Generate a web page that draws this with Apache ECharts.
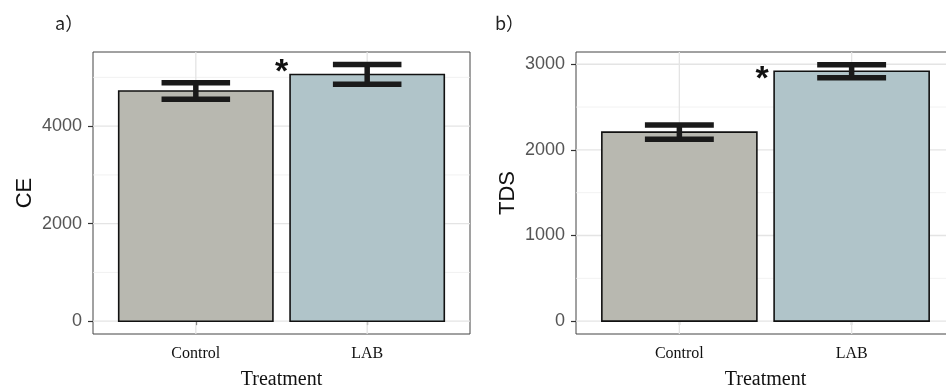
<!DOCTYPE html>
<html><head><meta charset="utf-8">
<script src="https://cdn.jsdelivr.net/npm/echarts@6/dist/echarts.min.js"></script>
<style>html,body{margin:0;padding:0;background:#fff}#c{width:946px;height:391px}</style>
</head><body><div id="c"></div>
<script>
// ---- data ----
const categories = ['Control', 'LAB'];
const catPos = [1, 2];
const ceMean = [4722, 5061];
const ceSE = [170, 204];
const tdsMean = [2207, 2918];
const tdsSE = [84, 76];
const ceTicks = [0, 2000, 4000];
const ceMinor = [1000, 3000, 5000];
const tdsTicks = [0, 1000, 2000, 3000];
const tdsMinor = [500, 1500, 2500];
const ceRange = [-263, 5521];
const tdsRange = [-150, 3143];
const xRange = [0.4, 2.6];
const ceSig = [1.5, 5090];
const tdsSig = [1.48, 2815];
const panelLabels = ['a）', 'b）'];
const yTitles = ['CE', 'TDS'];
const xTitle = 'Treatment';

// ---- styles ----
const fills = ['#B8B8B0', '#B0C4C9'];
const sans = 'Liberation Sans';
const serif = 'Liberation Serif';

function barItem(params, api) {
  const x = api.value(0), y = api.value(1);
  const a = api.coord([x - 0.45, 0]);
  const b = api.coord([x + 0.45, y]);
  return { type: 'rect', shape: { x: a[0], y: b[1], width: b[0] - a[0], height: a[1] - b[1] },
    style: { fill: fills[params.dataIndex], stroke: '#111', lineWidth: 1.6 } };
}
function errItem(params, api) {
  const x = api.value(0), m = api.value(1), s = api.value(2);
  const hi = api.coord([x, m + s]), lo = api.coord([x, m - s]);
  const l = api.coord([x - 0.2, m])[0], r = api.coord([x + 0.2, m])[0];
  const st = { stroke: '#1A1A1A', lineWidth: 5.5 };
  return { type: 'group', children: [
    { type: 'line', shape: { x1: hi[0], y1: hi[1], x2: lo[0], y2: lo[1] }, style: st },
    { type: 'line', shape: { x1: l, y1: hi[1], x2: r, y2: hi[1] }, style: st },
    { type: 'line', shape: { x1: l, y1: lo[1], x2: r, y2: lo[1] }, style: st }
  ] };
}
function hLine(color, width) {
  return function (params, api) {
    const y = api.coord([1, api.value(1)])[1];
    const cs = params.coordSys;
    return { type: 'line', shape: { x1: cs.x, y1: y, x2: cs.x + cs.width, y2: y },
      style: { stroke: color, lineWidth: width } };
  };
}
function vLine(color, width) {
  return function (params, api) {
    const x = api.coord([api.value(0), 0])[0];
    const cs = params.coordSys;
    return { type: 'line', shape: { x1: x, y1: cs.y, x2: x, y2: cs.y + cs.height },
      style: { stroke: color, lineWidth: width } };
  };
}
function sigItem(params, api) {
  const p = api.coord([api.value(0), api.value(1)]);
  return { type: 'text', x: p[0], y: p[1],
    style: { text: '*', fontSize: 34, fontWeight: 'bold', fontFamily: sans, fill: '#111',
      align: 'center', verticalAlign: 'middle' } };
}

function xAxisCfg(idx) {
  return {
    type: 'value', gridIndex: idx, min: xRange[0], max: xRange[1],
    axisLine: { show: false }, splitLine: { show: false },
    axisTick: { show: true, customValues: catPos, length: 4, lineStyle: { color: '#333', width: 1.2 } },
    axisLabel: { customValues: catPos, margin: 12, fontFamily: serif, fontSize: 16, color: '#111',
      formatter: v => categories[Math.round(v) - 1] },
    name: xTitle, nameLocation: 'middle', nameGap: 36,
    nameTextStyle: { fontFamily: serif, fontSize: 20, color: '#111' }
  };
}
function yAxisCfg(idx, range, ticks, title) {
  return {
    type: 'value', gridIndex: idx, min: range[0], max: range[1],
    axisLine: { show: false }, splitLine: { show: false },
    axisTick: { show: true, customValues: ticks, length: 5, lineStyle: { color: '#333', width: 1.2 } },
    axisLabel: { customValues: ticks, margin: 11, fontFamily: sans, fontSize: 18, color: '#555',
      formatter: v => String(v) },
    name: title, nameLocation: 'middle', nameRotate: 90, nameGap: 57,
    nameTextStyle: { fontFamily: sans, fontSize: 22, color: '#111' }
  };
}

function panelSeries(idx, means, ses, ticks, minor, sig) {
  const base = { xAxisIndex: idx, yAxisIndex: idx, silent: true, animation: false, clip: false };
  return [
    Object.assign({ type: 'custom', z: 1, renderItem: hLine('#EEEEEE', 0.8),
      data: minor.map(v => [1, v]), encode: { x: 0, y: 1 } }, base),
    Object.assign({ type: 'custom', z: 1, renderItem: hLine('#E4E4E4', 1.3),
      data: ticks.map(v => [1, v]), encode: { x: 0, y: 1 } }, base),
    Object.assign({ type: 'custom', z: 1, renderItem: vLine('#E4E4E4', 1.3),
      data: catPos.map(v => [v, 0]), encode: { x: 0, y: 1 } }, base),
    Object.assign({ type: 'custom', z: 2, renderItem: barItem,
      data: catPos.map((x, i) => [x, means[i]]), encode: { x: 0, y: 1 } }, base),
    Object.assign({ type: 'custom', z: 3, renderItem: errItem,
      data: catPos.map((x, i) => [x, means[i], ses[i]]), encode: { x: 0, y: 1 } }, base),
    Object.assign({ type: 'custom', z: 4, renderItem: sigItem,
      data: [sig], encode: { x: 0, y: 1 } }, base)
  ];
}

const chart = echarts.init(document.getElementById('c'), null, { renderer: 'canvas' });
chart.setOption({
  animation: false,
  backgroundColor: '#fff',
  title: [
    { text: panelLabels[0], left: 50, top: 9, textStyle: { fontFamily: 'Noto Sans CJK JP', fontSize: 18, fontWeight: 'normal', color: '#222' } },
    { text: panelLabels[1], left: 490, top: 9, textStyle: { fontFamily: 'Noto Sans CJK JP', fontSize: 18, fontWeight: 'normal', color: '#222' } }
  ],
  grid: [
    { left: 93, top: 52, width: 377, height: 282, show: true, borderColor: '#444', borderWidth: 1, backgroundColor: '#fff', outerBoundsMode: 'none', containLabel: false },
    { left: 576, top: 52, width: 379, height: 282, show: true, borderColor: '#444', borderWidth: 1, backgroundColor: '#fff', outerBoundsMode: 'none', containLabel: false }
  ],
  xAxis: [xAxisCfg(0), xAxisCfg(1)],
  yAxis: [yAxisCfg(0, ceRange, ceTicks, yTitles[0]), yAxisCfg(1, tdsRange, tdsTicks, yTitles[1])],
  series: [].concat(
    panelSeries(0, ceMean, ceSE, ceTicks, ceMinor, ceSig),
    panelSeries(1, tdsMean, tdsSE, tdsTicks, tdsMinor, tdsSig)
  )
});
</script>
</body></html>
